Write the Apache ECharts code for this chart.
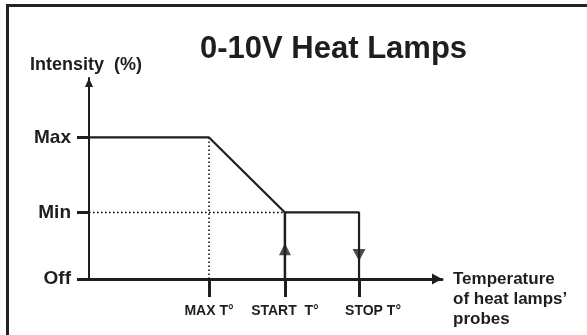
<!DOCTYPE html>
<html>
<head>
<meta charset="utf-8">
<title>0-10V Heat Lamps</title>
<script src="https://cdn.jsdelivr.net/npm/echarts@6/dist/echarts.min.js"></script>
<style>
  html, body { margin: 0; padding: 0; background: #ffffff; }
  #chart { width: 587px; height: 335px; }
</style>
</head>
<body>
<div id="chart"></div>
<script>
// Temperature axis (arbitrary 0-100 scale) and intensity axis (percent)
const xTickValues = [34, 55.5, 76.5];
const xTickLabels = ['MAX T°', 'START  T°', 'STOP T°'];
const yTickValues = [0, 47, 100];
const yTickLabels = ['Off', 'Min', 'Max'];

// Intensity profile: full output until MAX T°, ramp down to Min at START T°,
// hold at Min until STOP T°, then drop to Off
const profileX = [0, 34, 55.5, 76.5, 76.5];
const profileY = [100, 100, 47, 47, 0];
// Lamps switch on at START T° (Off -> Min)
const startX = [55.5, 55.5];
const startY = [0, 47];
// Direction markers on the on/off legs
const upArrow = [55.5, 21];
const downArrow = [76.5, 17];
// Guide lines
const minGuideX = [0, 55.5];
const minGuideY = [47, 47];
const maxTGuideX = [34, 34];
const maxTGuideY = [0, 100];

const xMax = 100;
const yMax = 142;

const ink = '#1e1e1e';
const font = '"Liberation Sans", Arial, Helvetica, sans-serif';

function zip(xs, ys) { return xs.map((x, i) => [x, ys[i]]); }

const chart = echarts.init(document.getElementById('chart'), null, { renderer: 'canvas' });

chart.setOption({
  animation: false,
  backgroundColor: '#ffffff',
  title: [
    {
      text: '0-10V Heat Lamps',
      left: 200, top: 34, padding: 0,
      textStyle: { fontFamily: font, fontWeight: 'bold', fontSize: 31, color: ink }
    },
    {
      text: 'Intensity  (%)',
      left: 30, top: 56, padding: 0,
      textStyle: { fontFamily: font, fontWeight: 'bold', fontSize: 18, color: ink }
    },
    {
      text: 'Temperature\nof heat lamps’\nprobes',
      left: 453, top: 269, padding: 0,
      textStyle: { fontFamily: font, fontWeight: 'bold', fontSize: 17, lineHeight: 20, color: ink }
    }
  ],
  grid: { left: 89, right: 145, top: 78, bottom: 56, containLabel: false },
  xAxis: {
    type: 'value',
    min: 0, max: xMax,
    splitLine: { show: false },
    axisLine: {
      show: true,
      lineStyle: { color: ink, width: 3 },
      symbol: ['none', 'triangle'],
      symbolSize: [11, 10],
      symbolOffset: [0, -5]
    },
    axisTick: {
      show: true, inside: false, length: 18,
      customValues: xTickValues,
      lineStyle: { color: ink, width: 3 }
    },
    axisLabel: {
      show: true,
      customValues: xTickValues,
      margin: 25,
      fontFamily: font, fontWeight: 'bold', fontSize: 14, color: ink,
      formatter: function (v) {
        const i = xTickValues.indexOf(v);
        const t = xTickLabels[i];
        return i === 2 ? '{s|' + t + '}' : t;
      },
      rich: {
        s: { fontFamily: font, fontWeight: 'bold', fontSize: 14, color: ink, padding: [0, 0, 0, 28] }
      }
    }
  },
  yAxis: {
    type: 'value',
    min: 0, max: yMax,
    splitLine: { show: false },
    axisLine: {
      show: true,
      lineStyle: { color: ink, width: 2 },
      symbol: ['none', 'triangle'],
      symbolSize: [8, 9],
      symbolOffset: [0, -4.5]
    },
    axisTick: {
      show: true, inside: false, length: 12,
      customValues: yTickValues,
      lineStyle: { color: ink, width: 3 }
    },
    axisLabel: {
      show: true,
      customValues: yTickValues,
      margin: 18,
      padding: [0, 0, 7, 0],
      fontFamily: font, fontWeight: 'bold', fontSize: 19, color: ink,
      formatter: function (v) { return yTickLabels[yTickValues.indexOf(v)]; }
    }
  },
  series: [
    {
      type: 'line', data: zip(minGuideX, minGuideY), symbol: 'none', z: 1,
      lineStyle: { color: '#000', width: 1.6, type: [1.6, 2.4] }, silent: true
    },
    {
      type: 'line', data: zip(maxTGuideX, maxTGuideY), symbol: 'none', z: 1,
      lineStyle: { color: '#000', width: 1.5, type: [1.5, 2.5] }, silent: true
    },
    {
      type: 'line', data: zip(profileX, profileY), symbol: 'none', z: 3,
      lineStyle: { color: ink, width: 2.2 }, silent: true
    },
    {
      type: 'line', data: zip(startX, startY), symbol: 'none', z: 3,
      lineStyle: { color: ink, width: 2.5 }, silent: true
    },
    {
      type: 'scatter', data: [upArrow], symbol: 'triangle', symbolSize: [12, 12], z: 4,
      itemStyle: { color: ink }, silent: true
    },
    {
      type: 'scatter', data: [downArrow], symbol: 'triangle', symbolSize: [13, 12], symbolRotate: 180, z: 4,
      itemStyle: { color: ink }, silent: true
    }
  ],
  graphic: [
    {
      type: 'line', silent: true,
      shape: { x1: 6, y1: 5.5, x2: 587, y2: 5.5 },
      style: { stroke: '#222', lineWidth: 3 }
    },
    {
      type: 'line', silent: true,
      shape: { x1: 7.5, y1: 4, x2: 7.5, y2: 335 },
      style: { stroke: '#222', lineWidth: 3 }
    }
  ]
});
</script>
</body>
</html>
